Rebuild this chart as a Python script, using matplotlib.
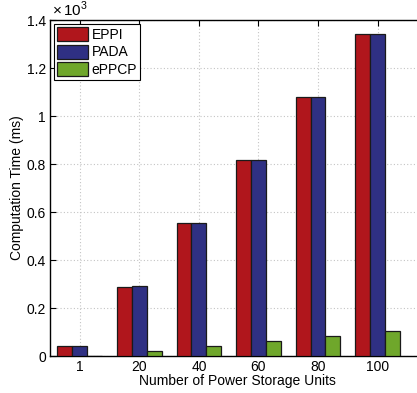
import numpy as np
import matplotlib
matplotlib.use("Agg")
import matplotlib.pyplot as plt
from matplotlib.ticker import FuncFormatter

# data (ms)
units = ["1", "20", "40", "60", "80", "100"]
eppi = [40, 289, 553, 818, 1078, 1341]
pada = [40, 291, 553, 818, 1078, 1341]
eppcp = [1, 22, 42, 64, 85, 104]
series_names = ["EPPI", "PADA", "ePPCP"]
colors = ["#B0161C", "#2F3083", "#6FA72B"]

plt.rcParams['font.family'] = ['Liberation Sans', 'DejaVu Sans']
plt.rcParams['font.size'] = 10
plt.rcParams['mathtext.fontset'] = 'custom'
plt.rcParams['mathtext.rm'] = 'Liberation Sans'

fig = plt.figure(figsize=(4.17, 3.93), dpi=100)
ax = fig.add_axes([50 / 417, 37 / 393, 374 / 417, 336 / 393])

x = np.arange(1, len(units) + 1)
w = 0.25
for i, (vals, name) in enumerate(zip([eppi, pada, eppcp], series_names)):
    ax.bar(x + (i - 1) * w, vals, w, color=colors[i], edgecolor="#1a1a1a",
           linewidth=0.9, label=name, zorder=3)

ax.set_xlim(0.5, 6.78)
ax.set_ylim(0, 1400)
ax.set_xticks(x)
ax.set_xticklabels(units)
ax.set_yticks(np.arange(0, 1401, 200))
ax.yaxis.set_major_formatter(FuncFormatter(lambda v, p: "%g" % (v / 1000)))

ax.grid(True, linestyle=(0, (1, 2)), color="#c4c4c4", linewidth=0.8, zorder=0)
ax.tick_params(direction="in", length=4, top=True, right=False, width=0.8, pad=3)
for s in ["left", "bottom", "top"]:
    ax.spines[s].set_linewidth(1.0)
ax.spines["right"].set_visible(False)

ax.set_xlabel("Number of Power Storage Units", labelpad=0)
ax.set_ylabel("Computation Time (ms)", labelpad=2)
ax.text(0.005, 1.003, r"$\times\,10^3$", transform=ax.transAxes,
        ha="left", va="bottom", fontsize=11)

leg = ax.legend(loc="upper left", fancybox=False, framealpha=1,
                edgecolor="black", handlelength=2.2, handleheight=1.2,
                borderaxespad=0.3, borderpad=0.2, labelspacing=0.2,
                handletextpad=0.3, fontsize=10)
leg.get_frame().set_linewidth(0.8)

fig.savefig("out.png", dpi=100)
